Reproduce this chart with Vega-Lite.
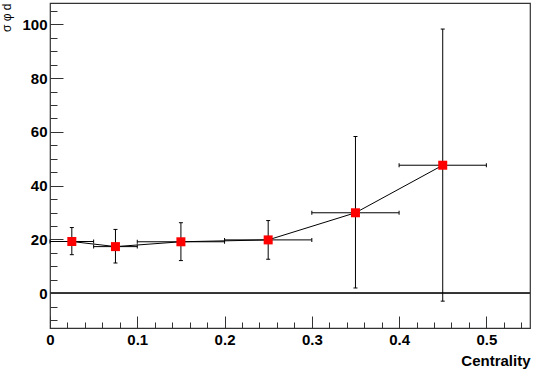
{
  "$schema": "https://vega.github.io/schema/vega-lite/v6.json",
  "width": 480,
  "height": 325,
  "autosize": "none",
  "padding": {"left": 50, "top": 3, "right": 3, "bottom": 41},
  "config": {
    "view": {"stroke": "#333", "strokeWidth": 1.2},
    "font": "Liberation Sans",
    "axis": {"domain": false, "grid": false, "labelOverlap": false, "labelBound": false, "labelFont": "Liberation Sans", "labelFontWeight": "bold", "labelFontSize": 15, "labelColor": "#000", "tickColor": "#333"}
  },
  "data": {"values": [
    {"x": 0.025, "xlo": 0.0, "xhi": 0.05, "y": 19.2, "ylo": 14.3, "yhi": 24.4},
    {"x": 0.075, "xlo": 0.05, "xhi": 0.1, "y": 17.3, "ylo": 11.2, "yhi": 23.7},
    {"x": 0.15, "xlo": 0.1, "xhi": 0.2, "y": 19.1, "ylo": 12.1, "yhi": 26.2},
    {"x": 0.25, "xlo": 0.2, "xhi": 0.3, "y": 19.8, "ylo": 12.6, "yhi": 27.0},
    {"x": 0.35, "xlo": 0.3, "xhi": 0.4, "y": 29.9, "ylo": 1.9, "yhi": 58.3},
    {"x": 0.45, "xlo": 0.4, "xhi": 0.5, "y": 47.6, "ylo": -3.0, "yhi": 98.3}
  ]},
  "layer": [
    {
      "mark": {"type": "line", "color": "#000", "strokeWidth": 1},
      "encoding": {
        "x": {"field": "x", "type": "quantitative", "scale": {"domain": [0, 0.55], "nice": false, "zero": false},
          "axis": {
            "values": [0,0.02,0.04,0.06,0.08,0.1,0.12,0.14,0.16,0.18,0.2,0.22,0.24,0.26,0.28,0.3,0.32,0.34,0.36,0.38,0.4,0.42,0.44,0.46,0.48,0.5,0.52,0.54],
            "tickCount": 100,
            "format": ".1~f",
            "labelExpr": "abs(datum.value*10 - round(datum.value*10)) < 0.000001 ? datum.label : ''",
            "tickSize": {"condition": {"test": "abs(datum.value*10 - round(datum.value*10)) < 0.000001", "value": -12}, "value": -6},
            "labelPadding": 16,
            "labelFlush": false,
            "title": "Centrality",
            "titleFontSize": 15,
            "titleFontWeight": "bold",
            "titleAnchor": "end",
            "titlePadding": 0
          }
        },
        "y": {"field": "y", "type": "quantitative", "scale": {"domain": [-13, 108], "nice": false, "zero": false},
          "axis": {
            "values": [-10,-5,0,5,10,15,20,25,30,35,40,45,50,55,60,65,70,75,80,85,90,95,100,105],
            "tickCount": 100,
            "format": "d",
            "labelExpr": "datum.value % 20 == 0 ? datum.label : ''",
            "tickSize": {"condition": {"test": "datum.value % 20 == 0", "value": -13}, "value": -7},
            "labelPadding": 16,
            "title": "σ φ d",
            "titleFontSize": 12,
            "titleFontWeight": "normal",
            "titleAnchor": "end",
            "titleAngle": -90,
            "titleX": -37,
            "titleY": 0,
            "titleAlign": "right",
            "titleBaseline": "bottom"
          }
        }
      }
    },
    {
      "mark": {"type": "rule", "color": "#333", "strokeWidth": 1},
      "encoding": {"y": {"datum": 0, "type": "quantitative"}}
    },
    {
      "mark": {"type": "rule", "color": "#000", "strokeWidth": 1},
      "encoding": {
        "x": {"field": "x", "type": "quantitative"},
        "y": {"field": "ylo", "type": "quantitative"},
        "y2": {"field": "yhi"}
      }
    },
    {
      "mark": {"type": "rule", "color": "#000", "strokeWidth": 1},
      "encoding": {
        "y": {"field": "y", "type": "quantitative"},
        "x": {"field": "xlo", "type": "quantitative"},
        "x2": {"field": "xhi"}
      }
    },
    {
      "mark": {"type": "tick", "orient": "horizontal", "color": "#000", "size": 4, "thickness": 1, "opacity": 1},
      "encoding": {"x": {"field": "x", "type": "quantitative"}, "y": {"field": "ylo", "type": "quantitative"}}
    },
    {
      "mark": {"type": "tick", "orient": "horizontal", "color": "#000", "size": 4, "thickness": 1, "opacity": 1},
      "encoding": {"x": {"field": "x", "type": "quantitative"}, "y": {"field": "yhi", "type": "quantitative"}}
    },
    {
      "mark": {"type": "tick", "orient": "vertical", "color": "#000", "size": 4, "thickness": 1, "opacity": 1},
      "encoding": {"x": {"field": "xlo", "type": "quantitative"}, "y": {"field": "y", "type": "quantitative"}}
    },
    {
      "mark": {"type": "tick", "orient": "vertical", "color": "#000", "size": 4, "thickness": 1, "opacity": 1},
      "encoding": {"x": {"field": "xhi", "type": "quantitative"}, "y": {"field": "y", "type": "quantitative"}}
    },
    {
      "mark": {"type": "square", "color": "#ff0000", "opacity": 1, "filled": true, "size": 81},
      "encoding": {
        "x": {"field": "x", "type": "quantitative"},
        "y": {"field": "y", "type": "quantitative"}
      }
    }
  ]
}
